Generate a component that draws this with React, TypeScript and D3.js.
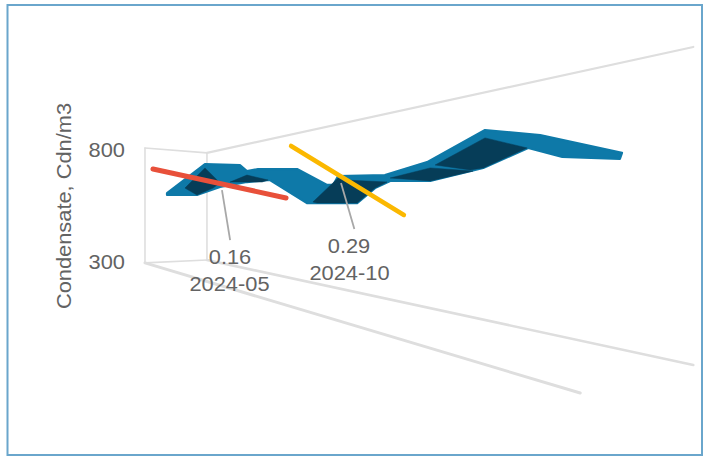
import React from "react";
import * as d3 from "d3";

type Pt = [number, number];

// Chart text
const yTitle = "Condensate, Cdn/m3";
const yTicks = [800, 300];
const callouts = [
  { month: 5, slopeValue: "0.16", date: "2024-05" },
  { month: 10, slopeValue: "0.29", date: "2024-10" },
];

// Ribbon silhouette as [month, price]
const ribbonUpper: Pt[] = [
  [1, 608], [3.81, 737], [5.79, 733], [6.08, 706], [6.54, 715], [8.17, 715],
  [9.42, 644], [9.67, 644], [9.88, 684], [11.25, 688], [12.45, 746],
  [14.1, 889], [15.67, 867], [18, 787],
];
const ribbonLower: Pt[] = [
  [1, 599], [3.22, 599], [4.93, 635], [6.08, 657], [7.04, 666], [8.58, 563],
  [10.46, 563], [10.97, 630], [11.4, 662], [12.54, 662], [14.05, 720],
  [15.33, 809], [16.3, 769], [17.94, 760],
];

// Underside facets, visible where the ribbon twists
const undersideA: Pt[] = [[3.81, 720], [2.33, 630], [3.22, 599], [4.41, 630], [4.93, 653]];
const undersideB: Pt[] = [[5.38, 657], [6.08, 688], [6.96, 666], [6.71, 657], [5.92, 657]];
const undersideC: Pt[] = [[8.83, 568], [9.88, 675], [10.11, 666], [11.31, 657], [10.97, 630], [10.46, 563], [9, 563]];
const undersideD: Pt[] = [[12.68, 733], [14.1, 854], [15.3, 809], [14.05, 720], [13.68, 711]];
const undersideE: Pt[] = [[11.4, 675], [12.54, 720], [13.76, 706], [12.54, 662]];
const undersides = [undersideA, undersideB, undersideC, undersideD, undersideE];

// Tangents at the two marked dates
const tangentRed: Pt[] = [[-0.04, 715], [7.71, 586]];
const tangentAmber: Pt[] = [[7.92, 818], [11.79, 510]];

// Box edges of the 3D plot
const boxEdges: { pts: Pt[]; w: number }[] = [
  { pts: [[-0.63, 809], [-0.63, 296]], w: 1.6 },
  { pts: [[3.96, 787], [3.96, 309]], w: 1.6 },
  { pts: [[-0.63, 809], [3.96, 787]], w: 1.6 },
  { pts: [[-0.63, 296], [3.96, 309]], w: 1.6 },
  { pts: [[3.96, 787], [20.03, 1260]], w: 2.2 },
  { pts: [[3.96, 309], [20.03, -160]], w: 2.6 },
  { pts: [[-0.63, 296], [16.81, -285]], w: 3 },
];

// Leader ends sit beneath the ribbon, above each callout
const leaders: [Pt, Pt][] = [
  [[5.04, 621], [5.38, 398]],
  [[10, 653], [10.38, 447]],
];

// Months spread out toward the viewer
const x = d3.scaleLinear().domain([1, 5, 10, 18]).range([167, 221, 341, 622]);
const y = d3.scaleLinear().domain([300, 800]).range([262, 150]);

const line = d3.line<Pt>().x((d) => x(d[0])).y((d) => y(d[1]));
const closed = d3.line<Pt>().x((d) => x(d[0])).y((d) => y(d[1])).curve(d3.curveLinearClosed);

const font = "'Liberation Sans', Arial, sans-serif";
const textColor = "#636363";

// Text is slightly wider than its height, so glyphs get a horizontal stretch
function Stretched({ px, py, anchor, children }: { px: number; py: number; anchor: string; children: React.ReactNode }) {
  return (
    <text
      transform={`translate(${px},${py}) scale(1.12,1)`}
      textAnchor={anchor}
      fontFamily={font}
      fontSize={19.5}
      fill={textColor}
    >
      {children}
    </text>
  );
}

export default function App() {
  const silhouette = [...ribbonUpper, ...[...ribbonLower].reverse()];
  return (
    <svg
      width={704}
      height={457}
      viewBox="0 0 704 457"
      style={{ position: "absolute", left: 0, top: 0, display: "block", background: "#fff" }}
    >
      <rect x={7.5} y={5} width={694.5} height={450} fill="#fff" stroke="#6aa6cc" strokeWidth={2} />

      {boxEdges.map((e, i) => (
        <path key={i} d={line(e.pts) ?? ""} fill="none" stroke="#dedede" strokeWidth={e.w} strokeLinecap="round" />
      ))}

      <path d={closed(silhouette) ?? ""} fill="#0e79a8" stroke="#0e79a8" strokeWidth={2.2} strokeLinejoin="round" />
      {undersides.map((f, i) => (
        <path key={i} d={closed(f) ?? ""} fill="#063d58" stroke="#063d58" strokeWidth={0.5} strokeLinejoin="round" />
      ))}

      {leaders.map((l, i) => (
        <path key={i} d={line(l) ?? ""} fill="none" stroke="#a8a8a8" strokeWidth={1.8} />
      ))}

      <path d={line(tangentRed) ?? ""} fill="none" stroke="#e8503a" strokeWidth={5} strokeLinecap="round" />
      <path d={line(tangentAmber) ?? ""} fill="none" stroke="#fbb800" strokeWidth={4.5} strokeLinecap="round" />

      {yTicks.map((t) => (
        <Stretched key={t} px={125} py={y(t) + 7} anchor="end">
          {t}
        </Stretched>
      ))}

      <text
        transform="translate(71,206) rotate(-90) scale(1.12,1)"
        textAnchor="middle"
        fontFamily={font}
        fontSize={19.5}
        fill={textColor}
      >
        {yTitle}
      </text>

      <Stretched px={230} py={264} anchor="middle">{callouts[0].slopeValue}</Stretched>
      <Stretched px={229.5} py={291} anchor="middle">{callouts[0].date}</Stretched>
      <Stretched px={349} py={252.5} anchor="middle">{callouts[1].slopeValue}</Stretched>
      <Stretched px={349.5} py={279.5} anchor="middle">{callouts[1].date}</Stretched>
    </svg>
  );
}
